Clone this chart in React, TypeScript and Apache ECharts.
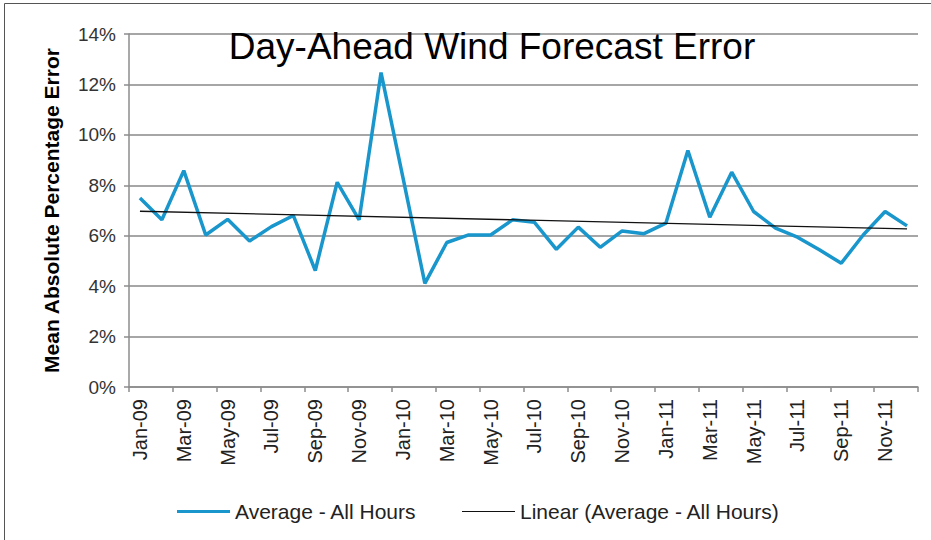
import React, { useEffect, useRef } from "react";
import * as echarts from "echarts";

const months = [
  "Jan-09","Feb-09","Mar-09","Apr-09","May-09","Jun-09","Jul-09","Aug-09","Sep-09","Oct-09","Nov-09","Dec-09",
  "Jan-10","Feb-10","Mar-10","Apr-10","May-10","Jun-10","Jul-10","Aug-10","Sep-10","Oct-10","Nov-10","Dec-10",
  "Jan-11","Feb-11","Mar-11","Apr-11","May-11","Jun-11","Jul-11","Aug-11","Sep-11","Oct-11","Nov-11","Dec-11",
];

const averageAllHours = [
  7.5, 6.63, 8.58, 6.03, 6.65, 5.79, 6.36, 6.8, 4.62, 8.12, 6.63, 12.47,
  8.3, 4.11, 5.73, 6.03, 6.03, 6.63, 6.53, 5.46, 6.34, 5.54, 6.19, 6.08,
  6.5, 9.38, 6.73, 8.52, 6.96, 6.3, 5.94, 5.44, 4.91, 6.03, 6.96, 6.39,
];

const trendStart = 6.97;
const trendEnd = 6.27;
const trendValues: (number | null)[] = months.map((_, i) =>
  i === 0 ? trendStart : i === months.length - 1 ? trendEnd : null
);

const yTicks = [0, 2, 4, 6, 8, 10, 12, 14];

export default function App() {
  const ref = useRef<HTMLDivElement>(null);
  useEffect(() => {
    if (!ref.current) return;
    const chart = echarts.init(ref.current, undefined, { renderer: "svg" });
    const font = "Liberation Sans, Arial, sans-serif";
    chart.setOption({
      animation: false,
      backgroundColor: "#ffffff",
      title: {
        text: "Day-Ahead Wind Forecast Error",
        left: 487,
        top: 23,
        textAlign: "center",
        textStyle: { fontFamily: font, fontSize: 37, fontWeight: "normal", color: "#000" },
      },
      graphic: [
        { type: "line", shape: { x1: 4.5, y1: 3.5, x2: 931, y2: 3.5 }, style: { stroke: "#555", lineWidth: 1 } },
        { type: "line", shape: { x1: 4.5, y1: 3.5, x2: 4.5, y2: 540 }, style: { stroke: "#555", lineWidth: 1 } },
      ],
      legend: [
        {
          data: ["Average - All Hours"],
          left: 172,
          top: 496,
          itemWidth: 53,
          itemHeight: 22,
          icon: "path://M0,9.5 L53,9.5 L53,12.5 L0,12.5 Z",
          textStyle: { fontFamily: font, fontSize: 21, color: "#222" },
        },
        {
          data: ["Linear (Average - All Hours)"],
          left: 457,
          top: 496,
          itemWidth: 53,
          itemHeight: 22,
          icon: "path://M0,10.4 L53,10.4 L53,11.6 L0,11.6 Z",
          textStyle: { fontFamily: font, fontSize: 21, color: "#222" },
        },
      ],
      grid: { left: 129, right: 13, top: 34, bottom: 153, containLabel: false },
      xAxis: {
        type: "category",
        data: months,
        boundaryGap: true,
        axisLine: { lineStyle: { color: "#8c8c8c", width: 1.5 } },
        axisTick: { show: true, interval: 1, length: 5, lineStyle: { color: "#8c8c8c", width: 1.5 } },
        axisLabel: {
          interval: 1,
          rotate: 90,
          margin: 12,
          fontFamily: font,
          fontSize: 20,
          color: "#222",
        },
        splitLine: { show: false },
      },
      yAxis: {
        type: "value",
        min: 0,
        max: 14,
        interval: 2,
        name: "Mean Absolute Percentage Error",
        nameLocation: "middle",
        nameGap: 67,
        nameRotate: 90,
        nameTextStyle: { fontFamily: font, fontSize: 21, fontWeight: "bold", color: "#000" },
        axisLine: { show: true, lineStyle: { color: "#8c8c8c", width: 1.5 } },
        axisTick: { show: true, length: 5, lineStyle: { color: "#8c8c8c", width: 1.5 } },
        axisLabel: {
          formatter: (v: number) => (yTicks.includes(v) ? `${v}%` : ""),
          margin: 13,
          fontFamily: font,
          fontSize: 19,
          color: "#333",
        },
        splitLine: { show: true, lineStyle: { color: "#a6a6a6", width: 2 } },
      },
      series: [
        {
          name: "Average - All Hours",
          type: "line",
          data: averageAllHours,
          symbol: "none",
          color: "#1996CB",
          lineStyle: { color: "#1996CB", width: 3.5 },
          z: 2,
        },
        {
          name: "Linear (Average - All Hours)",
          type: "line",
          data: trendValues,
          connectNulls: true,
          symbol: "none",
          color: "#111",
          lineStyle: { color: "#111", width: 1.3 },
          z: 3,
        },
      ],
    });
    return () => chart.dispose();
  }, []);
  return <div ref={ref} style={{ width: 931, height: 540, position: "absolute", left: 0, top: 0 }} />;
}
